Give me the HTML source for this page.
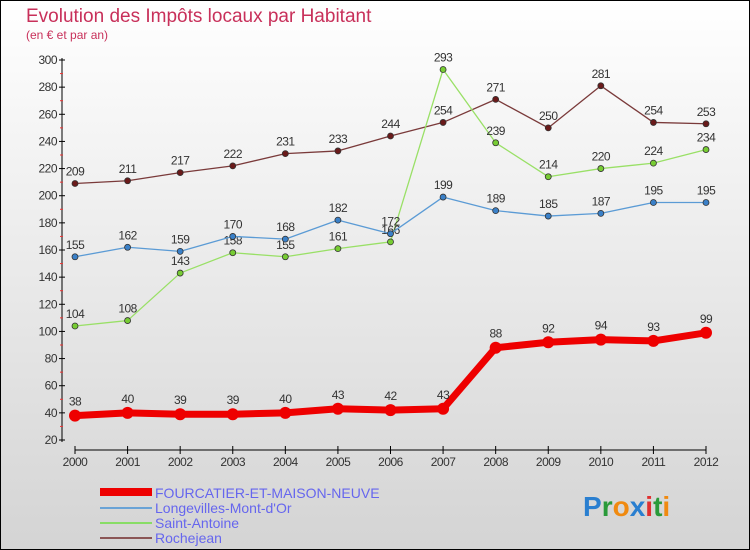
<!DOCTYPE html>
<html><head><meta charset="utf-8"><style>
body{margin:0}
#c{width:750px;height:550px;position:relative;overflow:hidden}
text{font-family:"Liberation Sans",sans-serif}
</style></head><body>
<div id="c">
<svg id="s" width="750" height="550" xmlns="http://www.w3.org/2000/svg">
<defs><linearGradient id="bg" x1="0" y1="0" x2="0" y2="1"><stop offset="0" stop-color="#ffffff"/><stop offset="1" stop-color="#d4d4d4"/></linearGradient></defs>
<rect x="0.5" y="0.5" width="749" height="549" fill="url(#bg)" stroke="#000"/>
<text x="26" y="22" font-size="19" fill="#c8305a">Evolution des Impôts locaux par Habitant</text>
<text x="26" y="39" font-size="12" fill="#c8305a">(en € et par an)</text>
<g id="axes"></g><g id="series"></g>
<g>
<rect x="100" y="488" width="52" height="8" fill="#e00"/>
<text x="155" y="498" font-size="14" fill="#6666ee">FOURCATIER-ET-MAISON-NEUVE</text>
<rect x="100" y="507" width="52" height="2" fill="#6aa3d6"/>
<text x="155" y="513" font-size="14" fill="#6666ee">Longevilles-Mont-d'Or</text>
<rect x="100" y="522" width="52" height="2" fill="#88dd66"/>
<text x="155" y="528" font-size="14" fill="#6666ee">Saint-Antoine</text>
<rect x="100" y="537" width="52" height="2" fill="#8a5555"/>
<text x="155" y="543" font-size="14" fill="#6666ee">Rochejean</text>
</g>
<text x="583" y="516" font-size="28" font-weight="bold"><tspan fill="#2a7fd0">P</tspan><tspan fill="#2a9a3a">r</tspan><tspan fill="#f08a10">o</tspan><tspan fill="#2a7fd0">x</tspan><tspan fill="#e03030">i</tspan><tspan fill="#2a9a3a">t</tspan><tspan fill="#f08a10">i</tspan></text>
</svg></div>
<script>
const years=[2000,2001,2002,2003,2004,2005,2006,2007,2008,2009,2010,2011,2012];
const yTicks=[20,40,60,80,100,120,140,160,180,200,220,240,260,280,300];
const fourcatier=[38,40,39,39,40,43,42,43,88,92,94,93,99];
const longevilles=[155,162,159,170,168,182,172,199,189,185,187,195,195];
const saintAntoine=[104,108,143,158,155,161,166,293,239,214,220,224,234];
const rochejean=[209,211,217,222,231,233,244,254,271,250,281,254,253];
const NS="http://www.w3.org/2000/svg";
const xS=i=>75+i*(706-75)/12;
const yS=v=>440-(v-20)*(380/280);
function mk(t,a,p){const e=document.createElementNS(NS,t);for(const k in a)e.setAttribute(k,a[k]);p.appendChild(e);return e;}
const ax=document.getElementById('axes');
let e=mk('line',{x1:62,y1:yS(300)-2,x2:62,y2:yS(20)+2,stroke:'#000','stroke-width':1},ax);


e=mk('line',{x1:75,y1:450,x2:706,y2:450,stroke:'#000','stroke-width':1},ax);


yTicks.forEach(v=>{
 mk('line',{x1:59,y1:yS(v),x2:65,y2:yS(v),stroke:'#000'},ax);
 if(v<300)mk('line',{x1:60,y1:yS(v+10),x2:63,y2:yS(v+10),stroke:'#e33'},ax);
 const t=mk('text',{x:57,y:yS(v)+4,'font-size':12,fill:'#333','text-anchor':'end','letter-spacing':'-0.5'},ax);
 t.textContent=v;
 
 
});
years.forEach((y,i)=>{
 mk('line',{x1:xS(i),y1:446,x2:xS(i),y2:454,stroke:'#000'},ax);
 const t=mk('text',{x:xS(i),y:466,'font-size':12,fill:'#333','text-anchor':'middle','letter-spacing':'-0.5'},ax);
 t.textContent=y;
 
 
});
const sg=document.getElementById('series');
function draw(vals,col,dot,w,r,name){
 const g=mk('g',{},sg);
 
 
 mk('polyline',{points:vals.map((v,i)=>xS(i)+','+yS(v)).join(' '),fill:'none',stroke:col,'stroke-width':w,'stroke-linejoin':'round'},g);
 vals.forEach((v,i)=>{
  const c=mk('circle',{cx:xS(i),cy:yS(v),r:r,fill:dot,stroke:'#333','stroke-width':r>4?0:0.8},g);
  
  
  const t=mk('text',{x:xS(i),y:yS(v)-(r>4?10:8),'font-size':12,fill:'#333','text-anchor':'middle','letter-spacing':'-0.5'},g);
  t.textContent=v;
  
  
 });
}
draw(rochejean,'#7a3a3a','#6a1a1a',1.3,3,'series-rochejean');
draw(saintAntoine,'#99e066','#77cc33',1.3,3,'series-saint-antoine');
draw(longevilles,'#5b9bd5','#3a80c8',1.3,3,'series-longevilles');
draw(fourcatier,'#ee0000','#ee0000',7,6,'series-fourcatier');
</script>
</body></html>
